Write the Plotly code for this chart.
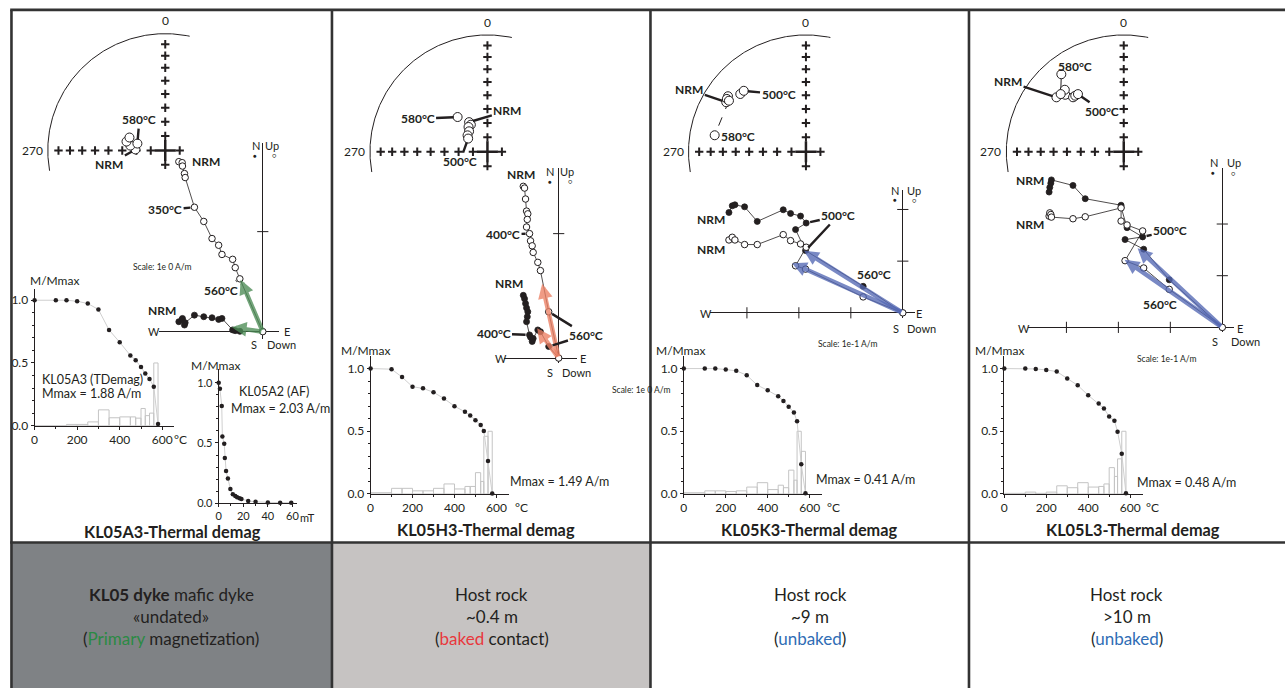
import numpy as np
import plotly.graph_objects as go

W, H = 1288, 695
FONT = "Lato, 'Open Sans', sans-serif"
INK = "#231f20"

# ======================= DATA =======================
# --- normalised intensity (M/Mmax) vs demag step, with step histograms ---
steps_A3 = [0, 100, 150, 200, 250, 300, 350, 400, 450, 475, 500, 520, 540, 560, 580]
m_A3 = [1.0, 1.0, 1.0, 0.992, 0.974, 0.926, 0.763, 0.665, 0.560, 0.521, 0.468, 0.415, 0.373, 0.310, 0.013]
hist_A3 = [0, 0, 0.01, 0.01, 0.03, 0.126, 0.063, 0.07, 0.07, 0.06, 0.137, 0.08, 0.10, 0.50]

steps_T = [0, 100, 150, 200, 250, 300, 350, 400, 450, 475, 500, 525, 540, 560, 580]
m_H3 = [1.0, 0.995, 0.932, 0.855, 0.842, 0.811, 0.761, 0.700, 0.655, 0.626, 0.587, 0.550, 0.503, 0.263, 0.003]
hist_H3 = [0.01, 0.045, 0.045, 0.025, 0.025, 0.045, 0.08, 0.04, 0.06, 0.06, 0.17, 0.10, 0.46, 0.50]
m_K3 = [1.0, 1.0, 1.0, 0.992, 0.982, 0.947, 0.868, 0.826, 0.779, 0.742, 0.695, 0.650, 0.579, 0.237, 0.005]
hist_K3 = [0.01, 0.025, 0.025, 0.02, 0.025, 0.055, 0.09, 0.035, 0.07, 0.05, 0.19, 0.11, 0.50, 0.34]
m_L3 = [1.0, 1.0, 0.997, 0.989, 0.976, 0.921, 0.866, 0.787, 0.721, 0.682, 0.618, 0.584, 0.497, 0.321, 0.005]
hist_L3 = [0.005, 0.015, 0.005, 0.015, 0.065, 0.05, 0.09, 0.055, 0.06, 0.08, 0.21, 0.14, 0.28, 0.50]

af_steps = [0, 1, 2.5, 3, 4.5, 5, 6, 7.5, 9.5, 11.5, 13.5, 15, 17, 18.5, 24, 30, 40, 50, 59]
m_A2 = [1.0, 0.951, 0.808, 0.553, 0.493, 0.375, 0.268, 0.206, 0.118, 0.074, 0.060, 0.049,
        0.041, 0.035, 0.019, 0.011, 0.005, 0.004, 0.004]

# --- Zijderveld components (E, N horizontal; E, Up vertical), A/m ---
zE_A3 = [-0.835, -0.802, -0.799, -0.779, -0.772, -0.680, -0.587, -0.505, -0.439, -0.406, -0.300, -0.274, -0.228, 0]
zN_A3 = [0.099, 0.122, 0.132, 0.066, 0.089, 0.165, 0.149, 0.139, 0.122, 0.132, 0.017, 0.010, 0.003, 0]
zU_A3 = [1.700, 1.690, 1.656, 1.581, 1.541, 1.244, 1.102, 0.931, 0.864, 0.772, 0.723, 0.640, 0.528, 0]

zE_H3 = [-0.283, -0.273, -0.265, -0.257, -0.247, -0.251, -0.257, -0.233, -0.225, -0.212, -0.204, -0.167, -0.146, -0.080, 0]
zN_H3 = [0.504, 0.477, 0.438, 0.403, 0.372, 0.332, 0.292, 0.186, 0.167, 0.133, 0.157, 0.226, 0.212, 0.093, 0]
zU_H3 = [1.380, 1.366, 1.278, 1.181, 1.159, 1.114, 1.053, 1.000, 0.942, 0.902, 0.849, 0.769, 0.703, 0.372, 0]

zE_K3 = [-0.3346, -0.3282, -0.3231, -0.3045, -0.2801, -0.2301, -0.216, -0.1968, -0.1859, -0.2064, -0.1872, -0.0763, 0]
zN_K3 = [0.1942, 0.2071, 0.209, 0.2051, 0.1769, 0.1994, 0.1923, 0.1872, 0.1737, 0.161, 0.1205, 0.0513, 0]
zU_K3 = [0.141, 0.1462, 0.141, 0.1321, 0.1321, 0.1513, 0.1397, 0.1333, 0.1269, 0.091, 0.0846, 0.0308, 0]

zE_L3 = [-0.3333, -0.332, -0.330, -0.3289, -0.2874, -0.2638, -0.1948, -0.1948, -0.1833, -0.1533, -0.1872, -0.1513, -0.1021, 0]
zN_L3 = [0.2619, 0.2709, 0.2791, 0.2854, 0.2747, 0.249, 0.2364, 0.2326, 0.1929, 0.1751, 0.1699, 0.1513, 0.092, 0]
zU_L3 = [0.2153, 0.2216, 0.2184, 0.2134, 0.2102, 0.214, 0.2312, 0.2057, 0.1981, 0.1866, 0.1291, 0.1149, 0.0736, 0]

# --- PCA fit directions (E, N) and (E, Up) ---
pca_h_A3, pca_v_A3 = [-0.307, 0.043], [-0.22, 0.52]
pca_h_H3, pca_v_H3 = [-0.172, 0.239], [-0.132, 0.597]
pca_h_K3, pca_v_K3 = [-0.19, 0.12], [-0.213, 0.096]
pca_h_L3, pca_v_L3 = [-0.163, 0.153], [-0.188, 0.131]

# --- stereonet directions (declination, inclination) ---
sdec_A3 = [272, 278, 283, 290, 284]
sinc_A3 = [-69.3, -65.5, -62.3, -63.5, -70.1]
sdec_H3 = [328.4, 328.6, 322.8, 318.2, 309.7, 304.5, 319.5]
sinc_H3 = [-65.7, -67.9, -68.3, -70.9, -72.1, -73.8, -57.9]
sdec_K3 = [302.0, 311.5, 314.6, 305.6, 303.9, 303.7, 280.3]
sinc_K3 = [-21.1, -26.3, -26.6, -19.5, -20.0, -22.3, -22.1]
sdec_L3 = [309.1, 314.4, 317.2, 319.3, 321.7, 316.6, 312.6, 321.3]
sinc_L3 = [-27.0, -30.9, -36.6, -36.8, -37.2, -27.8, -27.9, -16.1]

titles = ["KL05A3-Thermal demag", "KL05H3-Thermal demag", "KL05K3-Thermal demag", "KL05L3-Thermal demag"]
mmax_labels = ["Mmax = 1.88 A/m", "Mmax = 1.49 A/m", "Mmax = 0.41 A/m", "Mmax = 0.48 A/m"]

# ======================= HELPERS =======================
layout = dict(width=W, height=H, margin=dict(l=0, r=0, t=0, b=0), paper_bgcolor="white",
              plot_bgcolor="rgba(0,0,0,0)", showlegend=False, hovermode=False,
              font=dict(family=FONT, color=INK))
traces, annotations, shapes = [], [], []
_n = [0]


def dom_x(a, b):
    return [a / W, b / W]


def dom_y(top, bottom):
    return [1 - bottom / H, 1 - top / H]


def new_axes(xpx, ypx, xr, yr, xopt=None, yopt=None):
    _n[0] += 1
    s = "" if _n[0] == 1 else str(_n[0])
    base = dict(showgrid=False, zeroline=False, showticklabels=False, ticks="", showline=False, fixedrange=True)
    xa = dict(base, domain=dom_x(*xpx), range=list(xr), anchor="y" + s)
    ya = dict(base, domain=dom_y(*ypx), range=list(yr), anchor="x" + s)
    xa.update(xopt or {})
    ya.update(yopt or {})
    layout["xaxis" + s] = xa
    layout["yaxis" + s] = ya
    return "x" + s, "y" + s


def txt(t, x, y, size=12, color=INK, xanchor="center", bold=False):
    annotations.append(dict(text=f"<b>{t}</b>" if bold else t, x=x / W, y=1 - y / H, xref="paper", yref="paper",
                            showarrow=False, xanchor=xanchor, yanchor="middle",
                            font=dict(size=size, color=color, family=FONT)))


def leader(t, xa, ya, xd, yd, pt_px, text_px, size=12, ghost=False):
    annotations.append(dict(text=f"<b>{t}</b>", x=xd, y=yd, xref=xa, yref=ya,
                            ax=text_px[0] - pt_px[0], ay=text_px[1] - pt_px[1],
                            showarrow=True, arrowhead=0, arrowwidth=2.4, arrowcolor=INK, standoff=4,
                            font=dict(size=size, family=FONT, color="rgba(0,0,0,0)" if ghost else INK)))


R_ST = 118


def eqarea(dec, inc):
    d = np.radians(np.asarray(dec, float))
    i = np.radians(np.abs(np.asarray(inc, float)))
    r = np.sqrt(2) * np.sin((np.pi / 2 - i) / 2)
    return r * np.sin(d), r * np.cos(d)


def stereonet(c, dec, inc, link=None, dash="solid"):
    cx, cy = c
    half = 140
    xa, ya = new_axes((cx - half, cx + half), (cy - half, cy + half),
                      (-half / R_ST, half / R_ST), (-half / R_ST, half / R_ST))
    arc = np.radians(np.linspace(260, 372, 240))
    traces.append(go.Scatter(x=np.sin(arc), y=np.cos(arc), mode="lines", line=dict(color=INK, width=1),
                             xaxis=xa, yaxis=ya))
    tinc = np.arange(10, 90, 10)
    tdec = np.concatenate([np.zeros(8), np.full(8, 270.0), [90.0, 180.0]])
    tincs = np.concatenate([tinc, tinc, [80, 80]])
    tx, ty = eqarea(tdec, tincs)
    traces.append(go.Scatter(x=tx, y=ty, mode="markers", xaxis=xa, yaxis=ya,
                             marker=dict(symbol="cross-thin", size=6, line=dict(color=INK, width=2))))
    traces.append(go.Scatter(x=[0], y=[0], mode="markers", xaxis=xa, yaxis=ya,
                             marker=dict(symbol="cross-thin", size=15, line=dict(color=INK, width=2.5))))
    annotations.append(dict(text="0", x=0, y=1.11, xref=xa, yref=ya, showarrow=False,
                            font=dict(size=12, family=FONT, color=INK)))
    annotations.append(dict(text="270", x=-1.025, y=0, xref=xa, yref=ya, showarrow=False, xanchor="right",
                            font=dict(size=12, family=FONT, color=INK)))
    px_, py_ = eqarea(dec, inc)
    if link is not None:
        i, j = link
        traces.append(go.Scatter(x=[px_[i], px_[j]], y=[py_[i], py_[j]], mode="lines", xaxis=xa, yaxis=ya,
                                 line=dict(color=INK, width=1, dash=dash)))
    fill = ["white" if v < 0 else INK for v in inc]
    traces.append(go.Scatter(x=px_, y=py_, mode="markers", xaxis=xa, yaxis=ya, cliponaxis=False,
                             marker=dict(size=9, color=fill, line=dict(color=INK, width=1))))

    def to_px(i):
        return (cx + R_ST * px_[i], cy - R_ST * py_[i])
    return xa, ya, px_, py_, to_px


def zijder(o, k, hx, vy, E, N, U, tick_x=(), tick_y=()):
    ox, oy = o
    zl = dict(zeroline=True, zerolinecolor=INK, zerolinewidth=1)
    xa, ya = new_axes(hx, vy, ((hx[0] - ox) / k, (hx[1] - ox) / k), ((oy - vy[1]) / k, (oy - vy[0]) / k), zl, zl)
    if tick_x:
        traces.append(go.Scatter(x=list(tick_x), y=[0] * len(tick_x), mode="markers", xaxis=xa, yaxis=ya,
                                 cliponaxis=False,
                                 marker=dict(symbol="line-ns", size=8, line=dict(color=INK, width=1))))
    if tick_y:
        traces.append(go.Scatter(x=[0] * len(tick_y), y=list(tick_y), mode="markers", xaxis=xa, yaxis=ya,
                                 cliponaxis=False,
                                 marker=dict(symbol="line-ew", size=8, line=dict(color=INK, width=1))))
    traces.append(go.Scatter(x=E, y=N, mode="lines+markers", xaxis=xa, yaxis=ya, cliponaxis=False,
                             line=dict(color=INK, width=0.8),
                             marker=dict(size=6, color=INK, line=dict(color=INK, width=0.8))))
    traces.append(go.Scatter(x=E, y=U, mode="lines+markers", xaxis=xa, yaxis=ya, cliponaxis=False,
                             line=dict(color=INK, width=0.8),
                             marker=dict(size=6.5, color="white", line=dict(color=INK, width=1))))

    def to_px(e, n):
        return (ox + k * e, oy - k * n)
    return xa, ya, to_px


def pca_arrow(xa, ya, head, color):
    annotations.append(dict(text="", x=head[0], y=head[1], xref=xa, yref=ya, ax=0, ay=0, axref=xa, ayref=ya,
                            showarrow=True, arrowhead=2, arrowsize=0.65, arrowwidth=4.5, arrowcolor=color))


def demag(g, steps, m, hist, xticks, minor_x, unit, unit_x, tfs=12):
    x0, y0, ppx, ppy, xend, ytop = g
    common = dict(showline=True, linecolor=INK, linewidth=1, ticks="outside", ticklen=3, tickwidth=1,
                  tickcolor=INK, showticklabels=True, tickfont=dict(size=tfs, family=FONT, color=INK))
    xopt = dict(common, tickvals=xticks, ticktext=[str(v) for v in xticks],
                minor=dict(tickvals=minor_x, ticks="outside", ticklen=2, tickcolor=INK))
    yopt = dict(common, tickvals=[0, 0.5, 1.0], ticktext=["0.0", "0.5", "1.0"],
                minor=dict(tickvals=[0.1, 0.2, 0.3, 0.4, 0.6, 0.7, 0.8, 0.9], ticks="outside", ticklen=2,
                           tickcolor=INK))
    xa, ya = new_axes((x0, xend), (ytop, y0), (0, (xend - x0) / ppx), (0, (y0 - ytop) / ppy), xopt, yopt)
    if hist is not None:
        st = np.asarray(steps, float)
        traces.append(go.Bar(x=(st[:-1] + st[1:]) / 2, y=hist, width=np.diff(st), xaxis=xa, yaxis=ya,
                             marker=dict(color="rgba(0,0,0,0)", line=dict(color="#c4c4c4", width=1))))
    traces.append(go.Scatter(x=steps, y=m, mode="lines+markers", xaxis=xa, yaxis=ya, cliponaxis=False,
                             line=dict(color="#cfcfcf", width=1), marker=dict(size=4.5, color=INK)))
    txt(unit, unit_x, y0 + 14, tfs, xanchor="left")
    return xa, ya


GREEN = "rgba(76,140,86,0.78)"
SALMON = "rgba(236,128,100,0.78)"
BLUE = "rgba(84,104,180,0.78)"
TS = 16.3   # title size
TY = 535    # title centre y
BS = 17     # bottom text size
MS = 12     # M/Mmax label size

# ======================= PANEL 1 : KL05A3 =======================
sx, sy, spx, spy, s2p = stereonet((163, 152), sdec_A3, sinc_A3)
leader("580°C", sx, sy, spx[4], spy[4], s2p(4), (137, 121))
leader("NRM", sx, sy, spx[0], spy[0], s2p(0), (107, 166))

zx, zy, z2p = zijder((261, 335), 101, (157, 277), (144, 342), zE_A3, zN_A3, zU_A3, tick_y=[1.0])
pca_arrow(zx, zy, pca_h_A3, GREEN)
pca_arrow(zx, zy, pca_v_A3, GREEN)
leader("350°C", zx, zy, zE_A3[5], zU_A3[5], z2p(zE_A3[5], zU_A3[5]), (163, 212))
leader("560°C", zx, zy, zE_A3[12], zU_A3[12], z2p(zE_A3[12], zU_A3[12]), (219, 293))
txt("NRM", 204, 163, 12, bold=True)
txt("NRM", 160, 314, 12, bold=True)
txt("N", 254.5, 147, 11); txt("●", 253.5, 157, 6)
txt("Up", 270, 147, 11); txt("○", 273, 157, 7)
txt("W", 152, 335, 11); txt("E", 285, 335, 11)
txt("S", 252, 348, 11); txt("Down", 263, 348, 11, xanchor="left")
txt("Scale: 1e 0 A/m", 160, 270, 8.5)

demag((31.7, 430, 0.2139, 126.7, 171.7, 291.7), steps_A3, m_A3, hist_A3, [0, 200, 400, 600], [100, 300, 500],
      "°C", 169.5)
txt("M/Mmax", 52, 283, MS)
txt("KL05A3 (TDemag)", 37, 383, 12.5, xanchor="left")
txt(mmax_labels[0], 37, 397, 12.5, xanchor="left")

demag((216.7, 508.3, 1.235, 121.6, 295, 373), af_steps, m_A2, None, [0, 20, 40, 60], [10, 30, 50], "mT", 296,
      tfs=11)
txt("M/Mmax", 213, 369, MS)
txt("KL05A2 (AF)", 235, 395, 12.5, xanchor="left")
txt("Mmax = 2.03 A/m", 227, 413, 12.5, xanchor="left")
txt(titles[0], 170, TY + 1.5, TS, bold=True)

# ======================= PANEL 2 : KL05H3 =======================
sx, sy, spx, spy, s2p = stereonet((486.7, 153.3), sdec_H3, sinc_H3)
leader("580°C", sx, sy, spx[6], spy[6], s2p(6), (416.7, 120))
leader("NRM", sx, sy, spx[0], spy[0], s2p(0), (506.5, 112))
leader("500°C", sx, sy, spx[5], spy[5], s2p(5), (459, 163))

zx, zy, z2p = zijder((558.3, 361.7), 125.7, (503.3, 576.7), (170, 367), zE_H3, zN_H3, zU_H3, tick_y=[1.0])
pca_arrow(zx, zy, pca_h_H3, SALMON)
pca_arrow(zx, zy, pca_v_H3, SALMON)
leader("400°C", zx, zy, zE_H3[7], zU_H3[7], z2p(zE_H3[7], zU_H3[7]), (502.5, 236.7))
leader("400°C", zx, zy, zE_H3[7], zN_H3[7], z2p(zE_H3[7], zN_H3[7]), (493, 337))
leader("560°C", zx, zy, zE_H3[13], zU_H3[13], z2p(zE_H3[13], zU_H3[13]), (586, 338.3))
leader("560°C", zx, zy, zE_H3[13], zN_H3[13], z2p(zE_H3[13], zN_H3[13]), (586, 338.3), ghost=True)
txt("NRM", 520, 176, 12, bold=True)
txt("NRM", 508, 286, 12, bold=True)
txt("N", 550, 173, 11); txt("●", 549.3, 183, 6)
txt("Up", 567, 173, 11); txt("○", 570, 183, 7)
txt("W", 500, 362, 11); txt("E", 583, 362, 11)
txt("S", 550, 376, 11); txt("Down", 560, 376, 11, xanchor="left")
txt("Scale: 1e 0 A/m", 610, 394, 8.5, xanchor="left")

demag((369.3, 499, 0.2107, 126.7, 508.3, 360), steps_T, m_H3, hist_H3, [0, 200, 400, 600], [100, 300, 500],
      "°C", 512)
txt("M/Mmax", 364, 354, MS)
txt(mmax_labels[1], 507, 486, 12.5, xanchor="left")
txt(titles[1], 485, TY, TS, bold=True)

# ======================= PANEL 3 : KL05K3 =======================
sx, sy, spx, spy, s2p = stereonet((806.7, 153.3), sdec_K3, sinc_K3, link=(5, 6), dash="dash")
leader("NRM", sx, sy, spx[0], spy[0], s2p(0), (689.7, 90.7))
leader("500°C", sx, sy, spx[2], spy[2], s2p(2), (779, 95))
txt("580°C", 738.3, 138.3, 12, bold=True)

zx, zy, z2p = zijder((904, 316), 522, (710, 916.7), (191.7, 321.7), zE_K3, zN_K3, zU_K3,
                     tick_x=[-0.3, -0.2, -0.1], tick_y=[0.1, 0.2])
pca_arrow(zx, zy, pca_h_K3, BLUE)
pca_arrow(zx, zy, pca_v_K3, BLUE)
leader("500°C", zx, zy, zE_K3[8], zN_K3[8], z2p(zE_K3[8], zN_K3[8]), (839, 218))
leader("500°C", zx, zy, zE_K3[10], zN_K3[10], z2p(zE_K3[10], zN_K3[10]), (839, 218), ghost=True)
txt("560°C", 875, 277, 12, bold=True)
txt("NRM", 711.5, 252, 12, bold=True)
txt("NRM", 711.5, 222, 12, bold=True)
txt("N", 895.7, 192, 11); txt("●", 895.7, 202, 6)
txt("Up", 915.5, 192, 11); txt("○", 915.7, 202, 7)
txt("W", 706, 317, 11); txt("E", 920, 317, 11)
txt("S", 897, 332, 11); txt("Down", 906.7, 332, 11, xanchor="left")
txt("Scale: 1e-1 A/m", 848, 348, 8.5)

demag((684, 499, 0.2107, 126.7, 823.3, 360), steps_T, m_K3, hist_K3, [0, 200, 400, 600], [100, 300, 500],
      "°C", 826)
txt("M/Mmax", 681, 354, MS)
txt(mmax_labels[2], 815, 484, 12.5, xanchor="left")
txt(titles[2], 810, TY, TS, bold=True)

# ======================= PANEL 4 : KL05L3 =======================
sx, sy, spx, spy, s2p = stereonet((1126, 153.3), sdec_L3, sinc_L3, link=(6, 7))
leader("NRM", sx, sy, spx[0], spy[0], s2p(0), (1010, 82.7))
leader("500°C", sx, sy, spx[4], spy[4], s2p(4), (1104.3, 112.3))
txt("580°C", 1076.7, 66.7, 12, bold=True)

zx, zy, z2p = zijder((1225, 330.7), 522, (1030, 1236.7), (170, 335), zE_L3, zN_L3, zU_L3,
                     tick_x=[-0.3, -0.2, -0.1], tick_y=[0.1, 0.2])
pca_arrow(zx, zy, pca_h_L3, BLUE)
pca_arrow(zx, zy, pca_v_L3, BLUE)
leader("500°C", zx, zy, zE_L3[9], zN_L3[9], z2p(zE_L3[9], zN_L3[9]), (1172.5, 233.3))
txt("560°C", 1162.3, 307.3, 12, bold=True)
txt("NRM", 1031.5, 227, 12, bold=True)
txt("NRM", 1031.5, 182, 12, bold=True)
txt("N", 1216.7, 164, 11); txt("●", 1216, 174.3, 6)
txt("Up", 1237, 164, 11); txt("○", 1236.7, 174.3, 7)
txt("W", 1026, 332, 11); txt("E", 1243, 332, 11)
txt("S", 1218, 345, 11); txt("Down", 1231.7, 345, 11, xanchor="left")
txt("Scale: 1e-1 A/m", 1169, 363, 8.5)

demag((1006, 499, 0.2107, 126.7, 1145, 360), steps_T, m_L3, hist_L3, [0, 200, 400, 600], [100, 300, 500],
      "°C", 1146)
txt("M/Mmax", 1001, 354, MS)
txt(mmax_labels[3], 1137, 487, 12.5, xanchor="left")
txt(titles[3], 1135, TY, TS, bold=True)

# ======================= BOTTOM CELLS =======================
cells = [(8.5, 330.5, "#7f8285"), (330.5, 650.5, "#c6c3c2")]
for x0, x1, col in cells:
    shapes.append(dict(type="rect", xref="paper", yref="paper", x0=x0 / W, x1=x1 / W, y0=0, y1=1 - 548 / H,
                       fillcolor=col, line=dict(width=0), layer="below"))

GRN, RED, BLU = "#2b8a44", "#e8383d", "#2f6db5"
txt("<b>KL05 dyke</b> mafic dyke", 169, 601, BS)
txt("«undated»", 169, 623, BS)
txt(f"(<span style='color:{GRN}'>Primary</span> magnetization)", 169, 645, BS)
txt("Host rock", 491, 601, BS)
txt("~0.4 m", 491, 623, BS)
txt(f"(<span style='color:{RED}'>baked</span> contact)", 491, 645, BS)
txt("Host rock", 811, 601, BS)
txt("~9 m", 811, 623, BS)
txt(f"(<span style='color:{BLU}'>unbaked</span>)", 811, 645, BS)
txt("Host rock", 1129, 601, BS)
txt(">10 m", 1129, 623, BS)
txt(f"(<span style='color:{BLU}'>unbaked</span>)", 1129, 645, BS)

# ======================= GRID BORDERS =======================
BORDER = dict(color="#333333", width=2.6)
for xv in [8.5, 330.5, 650.5, 970.5]:
    shapes.append(dict(type="line", xref="paper", yref="paper", x0=xv / W, x1=xv / W, y0=0, y1=1 - 10 / H,
                       line=BORDER))
for yv in [10, 548]:
    shapes.append(dict(type="line", xref="paper", yref="paper", x0=7.2 / W, x1=1, y0=1 - yv / H, y1=1 - yv / H,
                       line=BORDER))

layout["annotations"] = annotations
layout["shapes"] = shapes
fig = go.Figure(data=traces, layout=layout)
fig.write_html("out.html", config={"displayModeBar": False, "staticPlot": True},
               post_script="document.body.style.margin='0px';document.body.style.overflow='hidden';")
